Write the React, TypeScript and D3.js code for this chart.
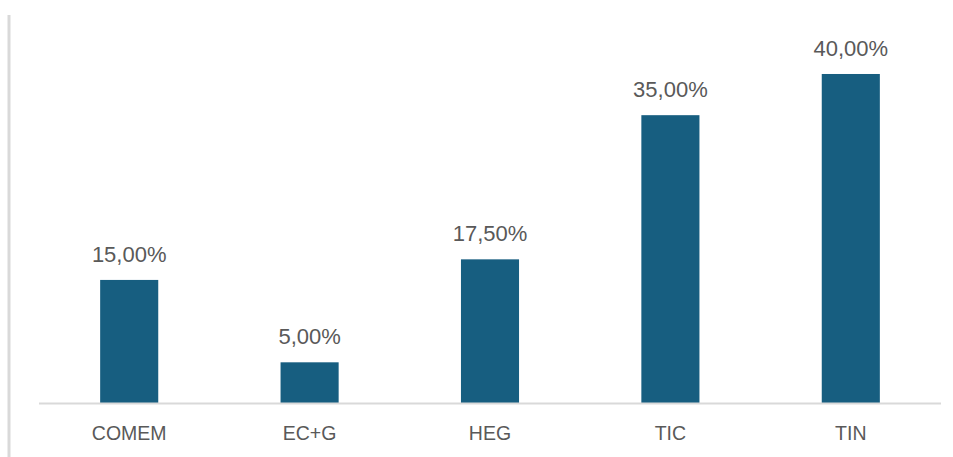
import React from "react";
import * as d3 from "d3";

const categories = ["COMEM", "EC+G", "HEG", "TIC", "TIN"];
const values = [0.15, 0.05, 0.175, 0.35, 0.4];
const valueLabels = ["15,00%", "5,00%", "17,50%", "35,00%", "40,00%"];

export default function App() {
  const W = 953, H = 457;
  const x = d3.scaleBand<string>().domain(categories).range([39, 941]).paddingInner(0.678).paddingOuter(0.339);
  const y = d3.scaleLinear().domain([0, 0.45]).range([403.5, 32.8]);
  const font = "'Liberation Sans', Arial, sans-serif";
  return (
    <svg width={W} height={H} style={{ position: "absolute", left: 0, top: 0 }}>
      <rect x={0} y={0} width={W} height={H} fill="#fff" />
      <line x1={9} x2={9} y1={15} y2={H} stroke="#d9d9d9" strokeWidth={3} />
      {categories.map((c, i) => (
        <g key={c}>
          <rect x={x(c)} y={y(values[i])} width={x.bandwidth()} height={y(0) - y(values[i])} fill="#175e80" />
          <text x={(x(c) as number) + x.bandwidth() / 2} y={y(values[i]) - 18} textAnchor="middle" fontFamily={font} fontSize={22} fill="#595959">{valueLabels[i]}</text>
          <text x={(x(c) as number) + x.bandwidth() / 2} y={440} textAnchor="middle" fontFamily={font} fontSize={19.5} fill="#595959">{c}</text>
        </g>
      ))}
      <line x1={39} x2={941} y1={y(0)} y2={y(0)} stroke="#d9d9d9" strokeWidth={2} />
    </svg>
  );
}
